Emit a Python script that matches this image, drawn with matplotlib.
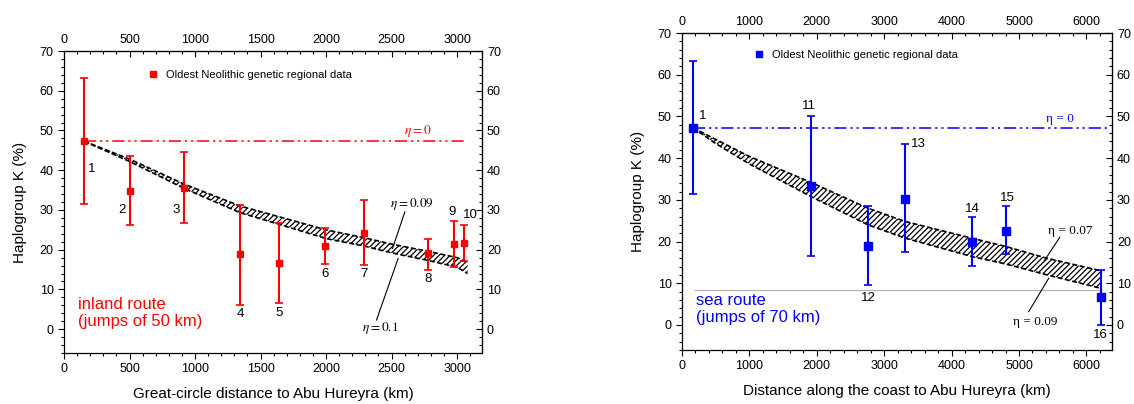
import matplotlib
matplotlib.use("Agg")
import matplotlib.pyplot as plt
from matplotlib.ticker import MultipleLocator
from matplotlib.lines import Line2D

plt.rcParams['font.family'] = ['Liberation Sans', 'DejaVu Sans']
plt.rcParams['mathtext.fontset'] = 'stix'
plt.rcParams['hatch.linewidth'] = 0.9

# -------------------------------
# data: inland route (left)
# -------------------------------
inland_id = ['1', '2', '3', '4', '5', '6', '7', '8', '9', '10']
inland_km = [153, 505, 918, 1344, 1640, 1994, 2293, 2777, 2976, 3053]
inland_k = [47.3, 34.8, 35.5, 18.8, 16.7, 21.0, 24.3, 19.1, 21.4, 21.7]
inland_hi = [63.2, 43.5, 44.6, 31.2, 26.6, 25.5, 32.4, 22.8, 27.1, 26.3]
inland_lo = [31.5, 26.1, 26.8, 6.2, 6.6, 16.3, 16.1, 15.0, 15.7, 17.2]
inland_lab_xy = [(212, 40.3), (446, 30.0), (859, 30.0), (1344, 3.7), (1640, 4.0),
                 (1994, 13.9), (2293, 13.9), (2777, 12.5), (2958, 29.4), (3099, 28.7)]

band_in_km = [153, 500, 918, 1344, 1640, 2000, 2293, 2500, 2777, 3000, 3080]
band_in_eta009 = [47.3, 42.8, 36.5, 31.0, 28.3, 25.0, 23.0, 21.4, 19.6, 18.0, 16.8]
band_in_eta01 = [47.3, 42.2, 35.4, 29.3, 26.4, 22.8, 20.9, 19.2, 17.3, 15.6, 14.0]

# -------------------------------
# data: sea route (right)
# -------------------------------
sea_id = ['1', '11', '12', '13', '14', '15', '16']
sea_km = [160, 1912, 2759, 3313, 4303, 4808, 6212]
sea_k = [47.3, 33.4, 19.0, 30.3, 20.0, 22.6, 6.8]
sea_hi = [63.2, 50.0, 28.5, 43.5, 25.8, 28.5, 13.2]
sea_lo = [31.5, 16.6, 9.5, 17.4, 14.2, 17.0, 0.0]
sea_lab_xy = [(302, 50.2), (1877, 52.4), (2768, 6.4), (3510, 43.4),
              (4303, 27.8), (4831, 30.5), (6208, -2.4)]

band_sea_km = [160, 500, 1000, 1912, 2759, 3313, 4303, 4808, 5416, 6212]
band_sea_eta007 = [47.3, 44.5, 40.4, 34.2, 28.0, 24.8, 20.8, 18.8, 16.0, 13.0]
band_sea_eta009 = [47.3, 43.5, 38.6, 30.8, 24.0, 20.8, 16.4, 14.6, 12.0, 8.8]

k_start = 47.3


def setup_axes(ax, xmax, xmajor, xminor):
    ax.set_xlim(0, xmax)
    ax.set_ylim(-6, 70)
    ax.xaxis.set_major_locator(MultipleLocator(xmajor))
    ax.xaxis.set_minor_locator(MultipleLocator(xminor))
    ax.yaxis.set_major_locator(MultipleLocator(10))
    ax.yaxis.set_minor_locator(MultipleLocator(2))
    ax.tick_params(which='both', direction='out', labelsize=9, width=0.8)
    ax.tick_params(which='major', length=4)
    ax.tick_params(which='minor', length=2)
    for s in ax.spines.values():
        s.set_linewidth(0.9)
    top = ax.secondary_xaxis('top')
    top.xaxis.set_major_locator(MultipleLocator(xmajor))
    top.xaxis.set_minor_locator(MultipleLocator(xminor))
    top.tick_params(which='both', direction='in', labelsize=9, width=0.8)
    top.tick_params(which='major', length=4)
    top.tick_params(which='minor', length=2)
    right = ax.secondary_yaxis('right')
    right.yaxis.set_major_locator(MultipleLocator(10))
    right.yaxis.set_minor_locator(MultipleLocator(2))
    right.tick_params(which='both', direction='in', labelsize=9, width=0.8)
    right.tick_params(which='major', length=4)
    right.tick_params(which='minor', length=2)
    ax.set_ylabel("Haplogroup K (%)", fontsize=11, labelpad=9)


def draw_band(ax, x, up, lo):
    ax.fill_between(x, up, lo, facecolor='none', edgecolor='black',
                    hatch='//////', linewidth=0)
    ax.plot(x, up, color='black', lw=1.2, ls=(0, (3, 1.5)))
    ax.plot(x, lo, color='black', lw=1.2, ls=(0, (3, 1.5)))


dashdotdot = (0, (8, 2.5, 1.5, 2.5, 1.5, 2.5))

fig = plt.figure(figsize=(11.34, 4.04), dpi=100)

# -------------------------------
# left panel
# -------------------------------
ax1 = fig.add_axes([64 / 1134, 51 / 404, 418 / 1134, 302 / 404])
setup_axes(ax1, 3190, 500, 100)

draw_band(ax1, band_in_km, band_in_eta009, band_in_eta01)
ax1.plot([inland_km[0], 3073], [k_start, k_start], color='red', lw=1.1, ls=dashdotdot)

yerr = [[k - l for k, l in zip(inland_k, inland_lo)],
        [h - k for k, h in zip(inland_k, inland_hi)]]
ax1.errorbar(inland_km, inland_k, yerr=yerr, fmt='s', color='red', ms=5,
             elinewidth=1.5, capsize=3, capthick=1.2, zorder=5)
for t, (x, y) in zip(inland_id, inland_lab_xy):
    ax1.text(x, y, t, fontsize=9.5, ha='center', va='center')

ax1.text(2703, 49.9, r'$\eta = 0$', color='red', fontsize=9.5, ha='center', va='center')
ax1.text(2653, 31.4, r'$\eta = 0.09$', fontsize=9.5, ha='center', va='center')
ax1.text(2410, 0.3, r'$\eta = 0.1$', fontsize=9.5, ha='center', va='center')
ax1.plot([2601, 2507], [29.5, 20.3], color='black', lw=0.8)
ax1.plot([2385, 2550], [2.3, 17.8], color='black', lw=0.8)

ax1.text(107, 4.0, "inland route\n(jumps of 50 km)", color='red', fontsize=12,
         ha='left', va='center', linespacing=1.2)
h1 = Line2D([], [], marker='s', color='red', ls='none', ms=5)
ax1.legend([h1], ["Oldest Neolithic genetic regional data"], loc='center left',
           bbox_to_anchor=(0.2, 0.92), frameon=False, fontsize=8,
           handlelength=1.0, handletextpad=0.7, borderpad=0, borderaxespad=0)
ax1.set_xlabel("Great-circle distance to Abu Hureyra (km)", fontsize=11, labelpad=8)

# -------------------------------
# right panel
# -------------------------------
ax2 = fig.add_axes([682 / 1134, 54 / 404, 430 / 1134, 317 / 404])
setup_axes(ax2, 6380, 1000, 200)

ax2.plot([200, 6230], [8.3, 8.3], color='#b0b0b0', lw=0.8)
draw_band(ax2, band_sea_km, band_sea_eta007, band_sea_eta009)
ax2.plot([sea_km[0], 6330], [k_start, k_start], color='blue', lw=1.1, ls=dashdotdot)

yerr = [[k - l for k, l in zip(sea_k, sea_lo)],
        [h - k for k, h in zip(sea_k, sea_hi)]]
ax2.errorbar(sea_km, sea_k, yerr=yerr, fmt='s', color='blue', ms=6,
             elinewidth=1.5, capsize=3, capthick=1.2, zorder=5)
for t, (x, y) in zip(sea_id, sea_lab_xy):
    ax2.text(x, y, t, fontsize=9.5, ha='center', va='center')

serif = ['Liberation Serif', 'DejaVu Serif']
ax2.text(5614, 49.4, 'η = 0', color='blue', fontsize=9.5, family=serif, ha='center', va='center')
ax2.text(5762, 22.6, 'η = 0.07', fontsize=9.5, family=serif, ha='center', va='center')
ax2.text(5243, 0.6, 'η = 0.09', fontsize=9.5, family=serif, ha='center', va='center')
ax2.plot([5604, 5376], [21.0, 15.4], color='black', lw=0.8)
ax2.plot([5144, 5441], [3.2, 11.2], color='black', lw=0.8)

ax2.text(205, 3.8, "sea route\n(jumps of 70 km)", color='blue', fontsize=12,
         ha='left', va='center', linespacing=1.2)
h2 = Line2D([], [], marker='s', color='blue', ls='none', ms=5)
ax2.legend([h2], ["Oldest Neolithic genetic regional data"], loc='center left',
           bbox_to_anchor=(0.165, 0.93), frameon=False, fontsize=8,
           handlelength=1.0, handletextpad=0.7, borderpad=0, borderaxespad=0)
ax2.set_xlabel("Distance along the coast to Abu Hureyra (km)", fontsize=11, labelpad=8)

fig.savefig("out.png", dpi=100)
